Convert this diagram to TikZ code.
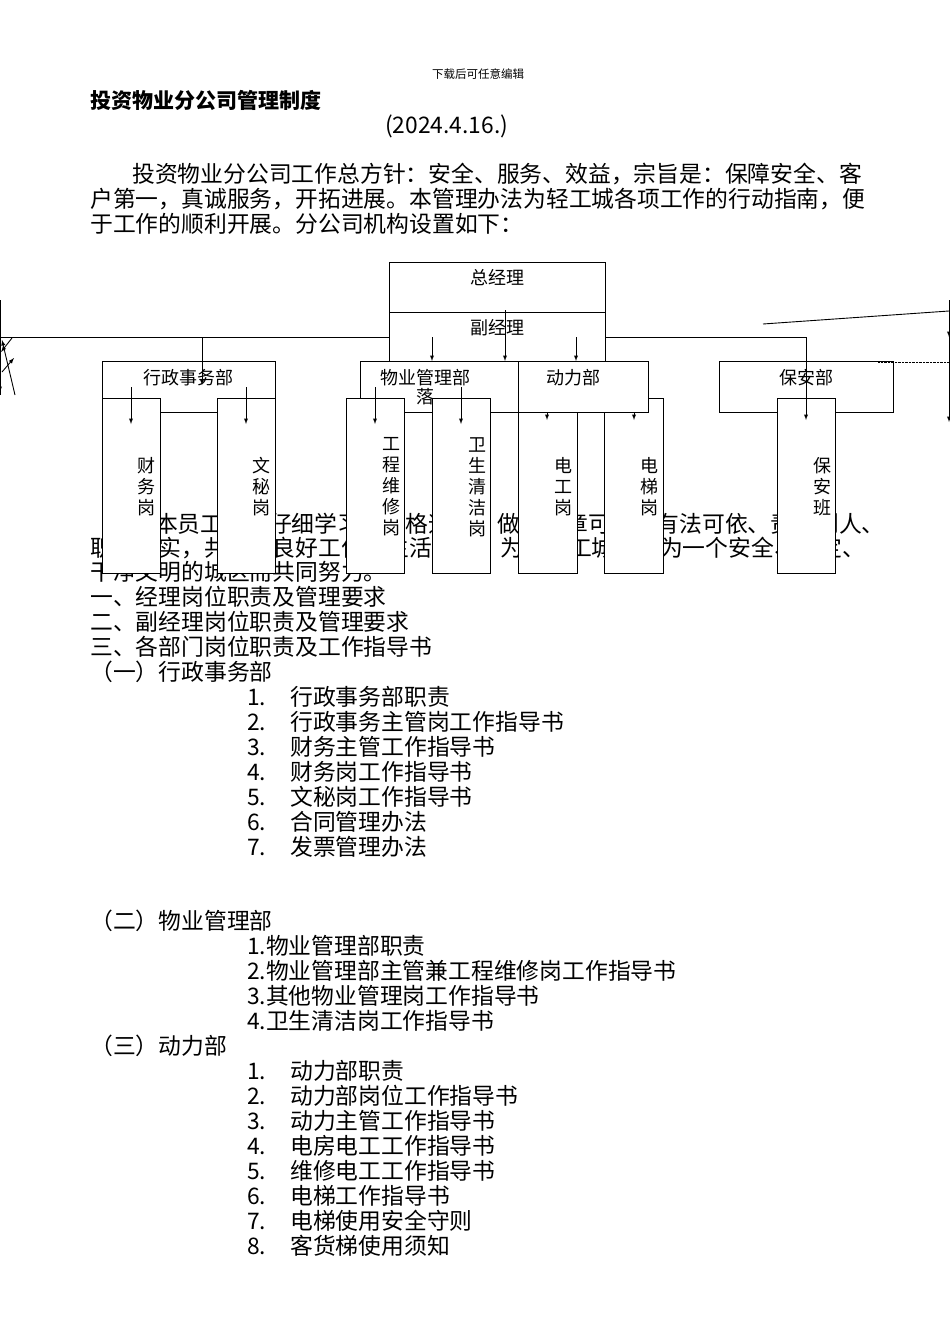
\documentclass[tikz,border=0pt]{standalone}
\usepackage{fontspec}
\setmainfont{Noto Sans CJK SC}
\begin{document}
\begin{tikzpicture}[x=1pt,y=-1pt,
  tx/.style={anchor=base west,inner sep=0pt,font=\fontsize{22.8}{25}\selectfont},
  bx/.style={draw,line width=0.9pt,fill=white},
  ct/.style={font=\fontsize{18}{19}\selectfont,inner sep=0pt},
  vt/.style={font=\fontsize{18}{21}\selectfont,inner sep=0pt,align=center,text width=1.1em},
  ar/.style={-latex,line width=0.9pt},
  ln/.style={line width=0.9pt}]
\useasboundingbox (0,0) rectangle (950,1344);
\node[inner sep=0pt,font=\fontsize{11.5}{12}\selectfont] (hd) at (478,74) {下载后可任意编辑};
\node[tx,font=\fontsize{21}{25}\selectfont\bfseries] (ttl) at (90,108) {投资物业分公司管理制度};
\node[tx] (dt) at (385,133) {(2024.4.16.)};
\node[tx] (p1) at (132,182) {投资物业分公司工作总方针：安全、服务、效益，宗旨是：保障安全、客};
\node[tx] (p2) at (90,207) {户第一，真诚服务，开拓进展。本管理办法为轻工城各项工作的行动指南，便};
\node[tx] (p3) at (90,232) {于工作的顺利开展。分公司机构设置如下：};
\node[tx] (q1) at (132,532) {望本员工认真仔细学习，严格遵守，做到有章可循、有法可依、责任到人、};
\node[tx] (q2) at (90,556) {职责落实，共营造良好工作、生活环境，为将轻工城建成为一个安全、稳定、};
\node[tx] (q3) at (90,580) {干净文明的城区而共同努力。};
\node[tx] (l1) at (90,605) {一、经理岗位职责及管理要求};
\node[tx] (l2) at (90,630) {二、副经理岗位职责及管理要求};
\node[tx] (l3) at (90,655) {三、各部门岗位职责及工作指导书};
\node[tx] (s1) at (90,680) {（一）行政事务部};
\foreach \n/\t [count=\i] in {1/行政事务部职责,2/行政事务主管岗工作指导书,3/财务主管工作指导书,4/财务岗工作指导书,5/文秘岗工作指导书,6/合同管理办法,7/发票管理办法}{
  \node[tx] (an\i) at (247,680+25*\i) {\n.};
  \node[tx] (at\i) at (290,680+25*\i) {\t};
}
\node[tx] (s2) at (90,929) {（二）物业管理部};
\foreach \t [count=\i] in {物业管理部职责,物业管理部主管兼工程维修岗工作指导书,其他物业管理岗工作指导书,卫生清洁岗工作指导书}{
  \node[tx] (b\i) at (247,929+25*\i) {\i.\t};
}
\node[tx] (s3) at (90,1054) {（三）动力部};
\foreach \t [count=\i] in {动力部职责,动力部岗位工作指导书,动力主管工作指导书,电房电工工作指导书,维修电工工作指导书,电梯工作指导书,电梯使用安全守则,客货梯使用须知}{
  \node[tx] (cn\i) at (247,1054+25*\i) {\i.};
  \node[tx] (ct\i) at (290,1054+25*\i) {\t};
}
% chart
\draw[bx] (389,262) rectangle (605,312);
\node[ct] (zjl) at (497,278) {总经理};
\draw[bx] (389,312) rectangle (605,362);
\node[ct] (fjl) at (497,328) {副经理};
\draw[bx] (102,361) rectangle (275,412);
\node[ct] (xz) at (188,378) {行政事务部};
\draw[bx] (360,361) rectangle (518,412);
\node[ct,align=center] (wy) at (425,387) {物业管理部\\落};
\draw[bx] (719,361) rectangle (893,412);
\node[ct] (ba) at (806,378) {保安部};
\foreach \a/\b/\c/\t in {102/160/143/财\\务\\岗,217/275/258/文\\秘\\岗,346/404/388/工\\程\\维\\修\\岗,432/490/474/卫\\生\\清\\洁\\岗,518/577/560/电\\工\\岗,604/663/646/电\\梯\\岗,777/835/819/保\\安\\班}{
  \draw[bx] (\a,398) rectangle (\b,573);
  \node[vt] at (\c,487) {\t};
}
\draw[bx] (518,361) rectangle (648,412);
\node[ct] (dl) at (573,378) {动力部};
% connectors
\draw[ln] (0,337) -- (389,337);
\draw[ar] (202,337) -- (202,385);
\draw[ar] (605,337) -- (806,337) -- (806,420);
\draw[ar] (432,337) -- (432,361);
\draw[ar] (505,310) -- (505,361);
\draw[ar] (576,337) -- (576,361);
\foreach \x in {131,246,375,461}{\draw[ar] (\x,387) -- (\x,424);}
\draw[ar] (547,412) -- (547,420);
\draw[ar] (634,412) -- (634,420);
% edge fragments
\draw[ln] (0,300) -- (0,395);
\draw[ar] (0,380) -- (0,392);
\draw[ar] (15,395) -- (2,340);
\draw[ar] (12,338) -- (1,352);
\draw[ar] (2,372) -- (14,358);
\draw[ln] (949,300) -- (949,420);
\draw[ar] (949,320) -- (949,337);
\draw[ar] (949,400) -- (949,422);
\draw[ln] (763,324) -- (949,311);
\draw[densely dotted] (878,362) -- (949,362);
\end{tikzpicture}
\end{document}
